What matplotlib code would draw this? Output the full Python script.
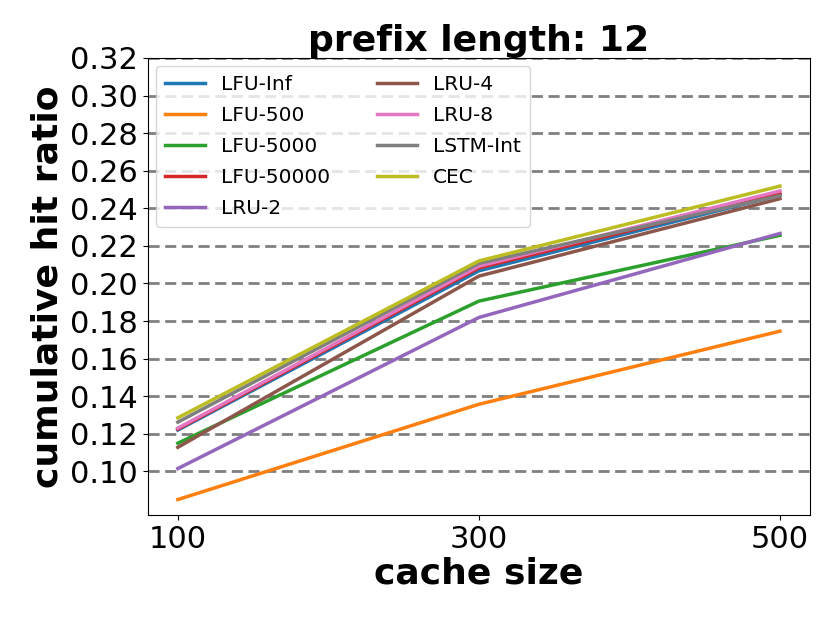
import matplotlib
matplotlib.use("Agg")
import matplotlib.pyplot as plt

# ── Data ────────────────────────────────────────────────────────────────────
cache_sizes = [100, 300, 500]

lfu_inf = [0.122, 0.2067, 0.247]
lfu_500 = [0.085, 0.1357, 0.1746]
lfu_5000 = [0.1150, 0.1906, 0.2256]
lfu_50000 = [0.1225, 0.2083, 0.2479]
lru_2 = [0.1015, 0.1819, 0.2266]
lru_4 = [0.1128, 0.2039, 0.2451]
lru_8 = [0.1230, 0.2092, 0.2492]
lstm_int = [0.1262, 0.2107, 0.2467]
cec = [0.1285, 0.2120, 0.2518]

series = [
    ("LFU-Inf", lfu_inf),
    ("LFU-500", lfu_500),
    ("LFU-5000", lfu_5000),
    ("LFU-50000", lfu_50000),
    ("LRU-2", lru_2),
    ("LRU-4", lru_4),
    ("LRU-8", lru_8),
    ("LSTM-Int", lstm_int),
    ("CEC", cec),
]

fig = plt.figure(figsize=(8.3, 6.23), dpi=100)
ax = fig.add_axes([0.178, 0.173, 0.798, 0.734])

for label, vals in series:
    ax.plot(cache_sizes, vals, lw=2.5, label=label)

ax.set_ylim(top=0.32)
ax.set_xticks(cache_sizes)
ax.set_yticks([0.10, 0.12, 0.14, 0.16, 0.18, 0.20, 0.22, 0.24, 0.26, 0.28, 0.30, 0.32])
ax.tick_params(labelsize=22)
ax.yaxis.grid(True, ls="--", lw=2, color="gray", dashes=(4, 2))
ax.set_axisbelow(True)

ax.set_xlabel("cache size", fontsize=26, fontweight="bold", labelpad=2)
ax.set_ylabel("cumulative hit ratio", fontsize=26, fontweight="bold", labelpad=4)
ax.set_title("prefix length: 12", fontsize=26, fontweight="bold", pad=2)
ax.legend(ncol=2, loc="upper left", fontsize=14.5, columnspacing=2.3,
          borderaxespad=0.4, borderpad=0.45, labelspacing=0.6)

fig.savefig("out.png", dpi=100)
